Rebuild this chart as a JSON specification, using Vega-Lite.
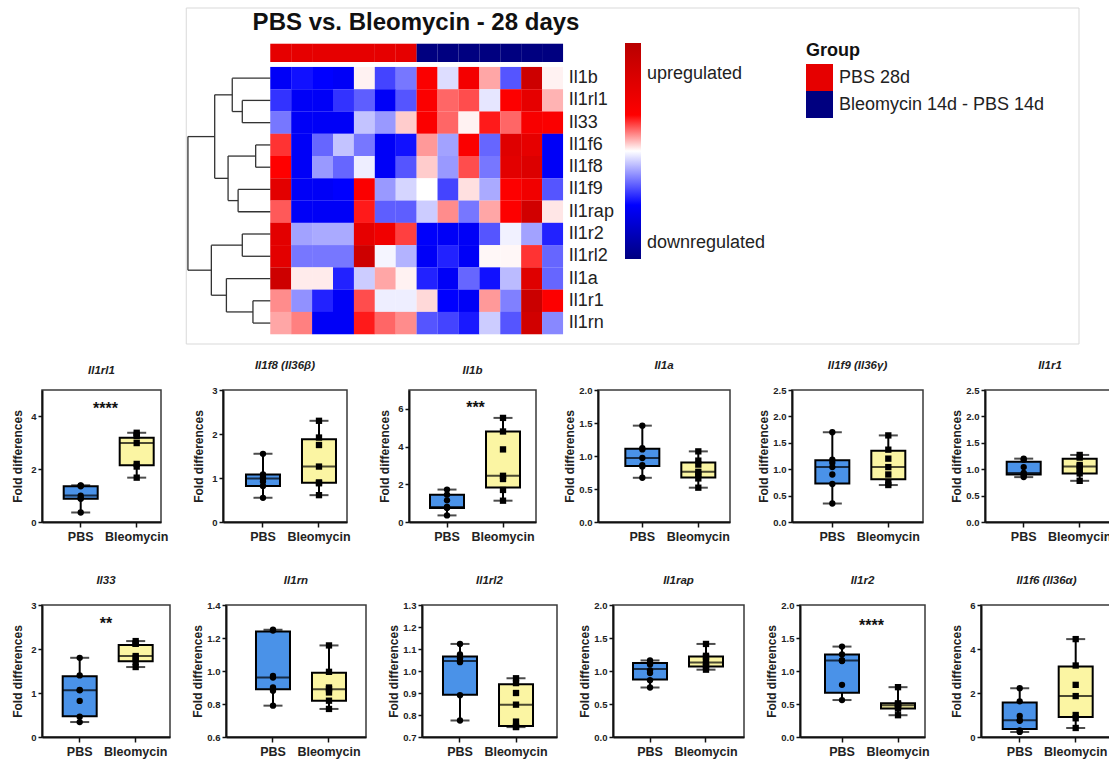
{
"$schema":"https://vega.github.io/schema/vega-lite/v6.json",
"padding":{"left":10,"top":7,"right":0,"bottom":0},
"background":"white",
"config":{
 "font":"Liberation Sans",
 "view":{"stroke":"#3a3a3a","strokeWidth":1.5},
 "axis":{"grid":false,"domainColor":"#111","domainWidth":2,"tickColor":"#111","tickWidth":1.5,"labelColor":"#222","titleColor":"#222"},
 "axisX":{"labelFontSize":12.5,"labelFontWeight":"bold","tickSize":5,"labelAngle":0,"labelPadding":3},
 "axisY":{"labelFontSize":9.5,"labelFontWeight":"bold","tickSize":4,"labelPadding":2,"titleFontSize":12,"titleFontWeight":"bold","labelOverlap":false,"labelFlush":false},
 "title":{"fontSize":11.5,"fontStyle":"italic","fontWeight":"bold","offset":14,"color":"#222"}
},
"datasets":{
 "heat":[
{"gene":"Il1b","r":1,"s":1,"v":-1.6},{"gene":"Il1b","r":1,"s":2,"v":-1.4},{"gene":"Il1b","r":1,"s":3,"v":-1.5},{"gene":"Il1b","r":1,"s":4,"v":-1.6},{"gene":"Il1b","r":1,"s":5,"v":0.05},{"gene":"Il1b","r":1,"s":6,"v":-1.1},{"gene":"Il1b","r":1,"s":7,"v":-0.8},{"gene":"Il1b","r":1,"s":8,"v":1.1},{"gene":"Il1b","r":1,"s":9,"v":-0.2},{"gene":"Il1b","r":1,"s":10,"v":1.3},{"gene":"Il1b","r":1,"s":11,"v":0.35},{"gene":"Il1b","r":1,"s":12,"v":-1.0},{"gene":"Il1b","r":1,"s":13,"v":2.4},{"gene":"Il1b","r":1,"s":14,"v":0.05},
{"gene":"Il1rl1","r":2,"s":1,"v":-1.2},{"gene":"Il1rl1","r":2,"s":2,"v":-1.6},{"gene":"Il1rl1","r":2,"s":3,"v":-1.6},{"gene":"Il1rl1","r":2,"s":4,"v":-1.2},{"gene":"Il1rl1","r":2,"s":5,"v":-0.95},{"gene":"Il1rl1","r":2,"s":6,"v":-1.6},{"gene":"Il1rl1","r":2,"s":7,"v":-1.0},{"gene":"Il1rl1","r":2,"s":8,"v":1.1},{"gene":"Il1rl1","r":2,"s":9,"v":0.6},{"gene":"Il1rl1","r":2,"s":10,"v":0.7},{"gene":"Il1rl1","r":2,"s":11,"v":-0.15},{"gene":"Il1rl1","r":2,"s":12,"v":1.05},{"gene":"Il1rl1","r":2,"s":13,"v":1.7},{"gene":"Il1rl1","r":2,"s":14,"v":0.3},
{"gene":"Il33","r":3,"s":1,"v":-0.8},{"gene":"Il33","r":3,"s":2,"v":-1.6},{"gene":"Il33","r":3,"s":3,"v":-1.6},{"gene":"Il33","r":3,"s":4,"v":-1.6},{"gene":"Il33","r":3,"s":5,"v":-0.35},{"gene":"Il33","r":3,"s":6,"v":-0.6},{"gene":"Il33","r":3,"s":7,"v":0.2},{"gene":"Il33","r":3,"s":8,"v":1.1},{"gene":"Il33","r":3,"s":9,"v":0.6},{"gene":"Il33","r":3,"s":10,"v":0.05},{"gene":"Il33","r":3,"s":11,"v":0.9},{"gene":"Il33","r":3,"s":12,"v":0.6},{"gene":"Il33","r":3,"s":13,"v":1.2},{"gene":"Il33","r":3,"s":14,"v":1.1},
{"gene":"Il1f6","r":4,"s":1,"v":0.8},{"gene":"Il1f6","r":4,"s":2,"v":-1.6},{"gene":"Il1f6","r":4,"s":3,"v":-0.9},{"gene":"Il1f6","r":4,"s":4,"v":-0.35},{"gene":"Il1f6","r":4,"s":5,"v":-0.8},{"gene":"Il1f6","r":4,"s":6,"v":-1.6},{"gene":"Il1f6","r":4,"s":7,"v":-1.4},{"gene":"Il1f6","r":4,"s":8,"v":0.4},{"gene":"Il1f6","r":4,"s":9,"v":-0.55},{"gene":"Il1f6","r":4,"s":10,"v":1.1},{"gene":"Il1f6","r":4,"s":11,"v":-0.9},{"gene":"Il1f6","r":4,"s":12,"v":1.9},{"gene":"Il1f6","r":4,"s":13,"v":1.7},{"gene":"Il1f6","r":4,"s":14,"v":-1.6},
{"gene":"Il1f8","r":5,"s":1,"v":1.0},{"gene":"Il1f8","r":5,"s":2,"v":-1.6},{"gene":"Il1f8","r":5,"s":3,"v":-0.6},{"gene":"Il1f8","r":5,"s":4,"v":-0.9},{"gene":"Il1f8","r":5,"s":5,"v":-0.1},{"gene":"Il1f8","r":5,"s":6,"v":-1.6},{"gene":"Il1f8","r":5,"s":7,"v":-1.0},{"gene":"Il1f8","r":5,"s":8,"v":0.2},{"gene":"Il1f8","r":5,"s":9,"v":-0.6},{"gene":"Il1f8","r":5,"s":10,"v":0.7},{"gene":"Il1f8","r":5,"s":11,"v":-0.8},{"gene":"Il1f8","r":5,"s":12,"v":1.8},{"gene":"Il1f8","r":5,"s":13,"v":2.0},{"gene":"Il1f8","r":5,"s":14,"v":-1.6},
{"gene":"Il1f9","r":6,"s":1,"v":1.8},{"gene":"Il1f9","r":6,"s":2,"v":-1.6},{"gene":"Il1f9","r":6,"s":3,"v":-1.6},{"gene":"Il1f9","r":6,"s":4,"v":-1.5},{"gene":"Il1f9","r":6,"s":5,"v":1.1},{"gene":"Il1f9","r":6,"s":6,"v":-0.6},{"gene":"Il1f9","r":6,"s":7,"v":-0.25},{"gene":"Il1f9","r":6,"s":8,"v":0.0},{"gene":"Il1f9","r":6,"s":9,"v":-1.1},{"gene":"Il1f9","r":6,"s":10,"v":0.12},{"gene":"Il1f9","r":6,"s":11,"v":-0.5},{"gene":"Il1f9","r":6,"s":12,"v":1.05},{"gene":"Il1f9","r":6,"s":13,"v":1.4},{"gene":"Il1f9","r":6,"s":14,"v":-1.0},
{"gene":"Il1rap","r":7,"s":1,"v":0.65},{"gene":"Il1rap","r":7,"s":2,"v":-1.6},{"gene":"Il1rap","r":7,"s":3,"v":-1.6},{"gene":"Il1rap","r":7,"s":4,"v":-1.6},{"gene":"Il1rap","r":7,"s":5,"v":0.9},{"gene":"Il1rap","r":7,"s":6,"v":-0.95},{"gene":"Il1rap","r":7,"s":7,"v":-0.95},{"gene":"Il1rap","r":7,"s":8,"v":-0.3},{"gene":"Il1rap","r":7,"s":9,"v":0.45},{"gene":"Il1rap","r":7,"s":10,"v":-0.8},{"gene":"Il1rap","r":7,"s":11,"v":0.35},{"gene":"Il1rap","r":7,"s":12,"v":1.05},{"gene":"Il1rap","r":7,"s":13,"v":2.3},{"gene":"Il1rap","r":7,"s":14,"v":0.1},
{"gene":"Il1r2","r":8,"s":1,"v":1.8},{"gene":"Il1r2","r":8,"s":2,"v":-0.55},{"gene":"Il1r2","r":8,"s":3,"v":-0.5},{"gene":"Il1r2","r":8,"s":4,"v":-0.5},{"gene":"Il1r2","r":8,"s":5,"v":1.7},{"gene":"Il1r2","r":8,"s":6,"v":1.4},{"gene":"Il1r2","r":8,"s":7,"v":0.75},{"gene":"Il1r2","r":8,"s":8,"v":-1.55},{"gene":"Il1r2","r":8,"s":9,"v":-1.6},{"gene":"Il1r2","r":8,"s":10,"v":-1.6},{"gene":"Il1r2","r":8,"s":11,"v":-1.0},{"gene":"Il1r2","r":8,"s":12,"v":-0.08},{"gene":"Il1r2","r":8,"s":13,"v":-0.55},{"gene":"Il1r2","r":8,"s":14,"v":-1.3},
{"gene":"Il1rl2","r":9,"s":1,"v":1.8},{"gene":"Il1rl2","r":9,"s":2,"v":-0.8},{"gene":"Il1rl2","r":9,"s":3,"v":-0.8},{"gene":"Il1rl2","r":9,"s":4,"v":-0.8},{"gene":"Il1rl2","r":9,"s":5,"v":2.4},{"gene":"Il1rl2","r":9,"s":6,"v":-0.06},{"gene":"Il1rl2","r":9,"s":7,"v":-0.45},{"gene":"Il1rl2","r":9,"s":8,"v":-1.6},{"gene":"Il1rl2","r":9,"s":9,"v":-1.3},{"gene":"Il1rl2","r":9,"s":10,"v":-1.6},{"gene":"Il1rl2","r":9,"s":11,"v":0.03},{"gene":"Il1rl2","r":9,"s":12,"v":0.03},{"gene":"Il1rl2","r":9,"s":13,"v":0.8},{"gene":"Il1rl2","r":9,"s":14,"v":-0.9},
{"gene":"Il1a","r":10,"s":1,"v":2.4},{"gene":"Il1a","r":10,"s":2,"v":0.08},{"gene":"Il1a","r":10,"s":3,"v":0.08},{"gene":"Il1a","r":10,"s":4,"v":-1.3},{"gene":"Il1a","r":10,"s":5,"v":-0.3},{"gene":"Il1a","r":10,"s":6,"v":0.35},{"gene":"Il1a","r":10,"s":7,"v":0.05},{"gene":"Il1a","r":10,"s":8,"v":-1.3},{"gene":"Il1a","r":10,"s":9,"v":-1.6},{"gene":"Il1a","r":10,"s":10,"v":-0.9},{"gene":"Il1a","r":10,"s":11,"v":-1.4},{"gene":"Il1a","r":10,"s":12,"v":-0.4},{"gene":"Il1a","r":10,"s":13,"v":1.9},{"gene":"Il1a","r":10,"s":14,"v":-0.9},
{"gene":"Il1r1","r":11,"s":1,"v":0.45},{"gene":"Il1r1","r":11,"s":2,"v":-0.65},{"gene":"Il1r1","r":11,"s":3,"v":-1.3},{"gene":"Il1r1","r":11,"s":4,"v":-1.6},{"gene":"Il1r1","r":11,"s":5,"v":0.7},{"gene":"Il1r1","r":11,"s":6,"v":-0.1},{"gene":"Il1r1","r":11,"s":7,"v":-0.1},{"gene":"Il1r1","r":11,"s":8,"v":0.15},{"gene":"Il1r1","r":11,"s":9,"v":-1.5},{"gene":"Il1r1","r":11,"s":10,"v":-1.6},{"gene":"Il1r1","r":11,"s":11,"v":0.4},{"gene":"Il1r1","r":11,"s":12,"v":-0.75},{"gene":"Il1r1","r":11,"s":13,"v":2.5},{"gene":"Il1r1","r":11,"s":14,"v":1.05},
{"gene":"Il1rn","r":12,"s":1,"v":0.35},{"gene":"Il1rn","r":12,"s":2,"v":0.5},{"gene":"Il1rn","r":12,"s":3,"v":-1.6},{"gene":"Il1rn","r":12,"s":4,"v":-1.6},{"gene":"Il1rn","r":12,"s":5,"v":0.9},{"gene":"Il1rn","r":12,"s":6,"v":0.6},{"gene":"Il1rn","r":12,"s":7,"v":0.45},{"gene":"Il1rn","r":12,"s":8,"v":-1.0},{"gene":"Il1rn","r":12,"s":9,"v":-1.1},{"gene":"Il1rn","r":12,"s":10,"v":-1.35},{"gene":"Il1rn","r":12,"s":11,"v":-0.3},{"gene":"Il1rn","r":12,"s":12,"v":-1.0},{"gene":"Il1rn","r":12,"s":13,"v":2.3},{"gene":"Il1rn","r":12,"s":14,"v":-0.7}
 ],
 "samples":[
{"s":1,"group":"PBS 28d"},{"s":2,"group":"PBS 28d"},{"s":3,"group":"PBS 28d"},{"s":4,"group":"PBS 28d"},{"s":5,"group":"PBS 28d"},{"s":6,"group":"PBS 28d"},{"s":7,"group":"PBS 28d"},
{"s":8,"group":"Bleomycin 14d - PBS 14d"},{"s":9,"group":"Bleomycin 14d - PBS 14d"},{"s":10,"group":"Bleomycin 14d - PBS 14d"},{"s":11,"group":"Bleomycin 14d - PBS 14d"},{"s":12,"group":"Bleomycin 14d - PBS 14d"},{"s":13,"group":"Bleomycin 14d - PBS 14d"},{"s":14,"group":"Bleomycin 14d - PBS 14d"}
 ],
 "dendro":[
{"x1":-0.84,"x2":-0.84,"y1":2,"y2":3},{"x1":-0.84,"x2":0.5,"y1":2,"y2":2},{"x1":-0.84,"x2":0.5,"y1":3,"y2":3},
{"x1":-1.32,"x2":-1.32,"y1":1,"y2":2.5},{"x1":-1.32,"x2":0.5,"y1":1,"y2":1},{"x1":-1.32,"x2":-0.84,"y1":2.5,"y2":2.5},
{"x1":-0.2,"x2":-0.2,"y1":4,"y2":5},{"x1":-0.2,"x2":0.5,"y1":4,"y2":4},{"x1":-0.2,"x2":0.5,"y1":5,"y2":5},
{"x1":-1.04,"x2":-1.04,"y1":6,"y2":7},{"x1":-1.04,"x2":0.5,"y1":6,"y2":6},{"x1":-1.04,"x2":0.5,"y1":7,"y2":7},
{"x1":-1.52,"x2":-1.52,"y1":4.5,"y2":6.5},{"x1":-1.52,"x2":-0.2,"y1":4.5,"y2":4.5},{"x1":-1.52,"x2":-1.04,"y1":6.5,"y2":6.5},
{"x1":-2.16,"x2":-2.16,"y1":1.75,"y2":5.5},{"x1":-2.16,"x2":-1.32,"y1":1.75,"y2":1.75},{"x1":-2.16,"x2":-1.52,"y1":5.5,"y2":5.5},
{"x1":-0.84,"x2":-0.84,"y1":8,"y2":9},{"x1":-0.84,"x2":0.5,"y1":8,"y2":8},{"x1":-0.84,"x2":0.5,"y1":9,"y2":9},
{"x1":-0.33,"x2":-0.33,"y1":11,"y2":12},{"x1":-0.33,"x2":0.5,"y1":11,"y2":11},{"x1":-0.33,"x2":0.5,"y1":12,"y2":12},
{"x1":-1.6,"x2":-1.6,"y1":10,"y2":11.5},{"x1":-1.6,"x2":0.5,"y1":10,"y2":10},{"x1":-1.6,"x2":-0.33,"y1":11.5,"y2":11.5},
{"x1":-2.32,"x2":-2.32,"y1":8.5,"y2":10.75},{"x1":-2.32,"x2":-0.84,"y1":8.5,"y2":8.5},{"x1":-2.32,"x2":-1.6,"y1":10.75,"y2":10.75},
{"x1":-3.44,"x2":-3.44,"y1":3.625,"y2":9.625},{"x1":-3.44,"x2":-2.16,"y1":3.625,"y2":3.625},{"x1":-3.44,"x2":-2.32,"y1":9.625,"y2":9.625}
 ],
 "boxes":[
{"gene":"Il1rl1","group":"PBS","lo":0.36,"q1":0.88,"med":1.0,"q3":1.35,"hi":1.39},
{"gene":"Il1rl1","group":"Bleomycin","lo":1.68,"q1":2.15,"med":2.99,"q3":3.19,"hi":3.38},
{"gene":"Il1f8","group":"PBS","lo":0.55,"q1":0.82,"med":0.99,"q3":1.08,"hi":1.55},
{"gene":"Il1f8","group":"Bleomycin","lo":0.61,"q1":0.89,"med":1.26,"q3":1.88,"hi":2.3},
{"gene":"Il1b","group":"PBS","lo":0.35,"q1":0.74,"med":0.8,"q3":1.45,"hi":1.72},
{"gene":"Il1b","group":"Bleomycin","lo":1.13,"q1":1.83,"med":2.45,"q3":4.8,"hi":5.52},
{"gene":"Il1a","group":"PBS","lo":0.67,"q1":0.85,"med":0.97,"q3":1.11,"hi":1.46},
{"gene":"Il1a","group":"Bleomycin","lo":0.52,"q1":0.675,"med":0.76,"q3":0.9,"hi":1.07},
{"gene":"Il1f9","group":"PBS","lo":0.35,"q1":0.73,"med":1.04,"q3":1.17,"hi":1.7},
{"gene":"Il1f9","group":"Bleomycin","lo":0.7,"q1":0.81,"med":1.04,"q3":1.35,"hi":1.64},
{"gene":"Il1r1","group":"PBS","lo":0.85,"q1":0.9,"med":0.93,"q3":1.14,"hi":1.2},
{"gene":"Il1r1","group":"Bleomycin","lo":0.78,"q1":0.92,"med":1.05,"q3":1.2,"hi":1.27},
{"gene":"Il33","group":"PBS","lo":0.34,"q1":0.47,"med":1.06,"q3":1.38,"hi":1.8},
{"gene":"Il33","group":"Bleomycin","lo":1.59,"q1":1.72,"med":1.84,"q3":2.09,"hi":2.18},
{"gene":"Il1rn","group":"PBS","lo":0.79,"q1":0.89,"med":0.96,"q3":1.24,"hi":1.25},
{"gene":"Il1rn","group":"Bleomycin","lo":0.77,"q1":0.82,"med":0.89,"q3":0.99,"hi":1.155},
{"gene":"Il1rl2","group":"PBS","lo":0.775,"q1":0.892,"med":1.045,"q3":1.066,"hi":1.123},
{"gene":"Il1rl2","group":"Bleomycin","lo":0.745,"q1":0.75,"med":0.847,"q3":0.94,"hi":0.967},
{"gene":"Il1rap","group":"PBS","lo":0.75,"q1":0.87,"med":1.03,"q3":1.12,"hi":1.16},
{"gene":"Il1rap","group":"Bleomycin","lo":1.02,"q1":1.07,"med":1.13,"q3":1.22,"hi":1.41},
{"gene":"Il1r2","group":"PBS","lo":0.56,"q1":0.67,"med":1.16,"q3":1.25,"hi":1.37},
{"gene":"Il1r2","group":"Bleomycin","lo":0.33,"q1":0.43,"med":0.48,"q3":0.51,"hi":0.755},
{"gene":"Il1f6","group":"PBS","lo":0.23,"q1":0.36,"med":0.76,"q3":1.57,"hi":2.22},
{"gene":"Il1f6","group":"Bleomycin","lo":0.41,"q1":0.91,"med":1.86,"q3":3.2,"hi":4.45}
 ],
 "points":[
{"gene":"Il1rl1","group":"PBS","value":1.39},{"gene":"Il1rl1","group":"PBS","value":1.38},{"gene":"Il1rl1","group":"PBS","value":1.35},{"gene":"Il1rl1","group":"PBS","value":1.0},{"gene":"Il1rl1","group":"PBS","value":0.9},{"gene":"Il1rl1","group":"PBS","value":0.88},{"gene":"Il1rl1","group":"PBS","value":0.36},
{"gene":"Il1rl1","group":"Bleomycin","value":3.38},{"gene":"Il1rl1","group":"Bleomycin","value":3.3},{"gene":"Il1rl1","group":"Bleomycin","value":3.25},{"gene":"Il1rl1","group":"Bleomycin","value":2.99},{"gene":"Il1rl1","group":"Bleomycin","value":2.2},{"gene":"Il1rl1","group":"Bleomycin","value":2.1},{"gene":"Il1rl1","group":"Bleomycin","value":1.68},
{"gene":"Il1f8","group":"PBS","value":1.55},{"gene":"Il1f8","group":"PBS","value":1.08},{"gene":"Il1f8","group":"PBS","value":1.02},{"gene":"Il1f8","group":"PBS","value":0.99},{"gene":"Il1f8","group":"PBS","value":0.92},{"gene":"Il1f8","group":"PBS","value":0.82},{"gene":"Il1f8","group":"PBS","value":0.55},
{"gene":"Il1f8","group":"Bleomycin","value":2.3},{"gene":"Il1f8","group":"Bleomycin","value":1.92},{"gene":"Il1f8","group":"Bleomycin","value":1.75},{"gene":"Il1f8","group":"Bleomycin","value":1.26},{"gene":"Il1f8","group":"Bleomycin","value":0.9},{"gene":"Il1f8","group":"Bleomycin","value":0.88},{"gene":"Il1f8","group":"Bleomycin","value":0.61},
{"gene":"Il1b","group":"PBS","value":1.72},{"gene":"Il1b","group":"PBS","value":1.45},{"gene":"Il1b","group":"PBS","value":1.15},{"gene":"Il1b","group":"PBS","value":0.8},{"gene":"Il1b","group":"PBS","value":0.78},{"gene":"Il1b","group":"PBS","value":0.74},{"gene":"Il1b","group":"PBS","value":0.35},
{"gene":"Il1b","group":"Bleomycin","value":5.52},{"gene":"Il1b","group":"Bleomycin","value":4.8},{"gene":"Il1b","group":"Bleomycin","value":3.85},{"gene":"Il1b","group":"Bleomycin","value":2.45},{"gene":"Il1b","group":"Bleomycin","value":2.28},{"gene":"Il1b","group":"Bleomycin","value":1.7},{"gene":"Il1b","group":"Bleomycin","value":1.13},
{"gene":"Il1a","group":"PBS","value":1.46},{"gene":"Il1a","group":"PBS","value":1.12},{"gene":"Il1a","group":"PBS","value":1.1},{"gene":"Il1a","group":"PBS","value":0.97},{"gene":"Il1a","group":"PBS","value":0.86},{"gene":"Il1a","group":"PBS","value":0.84},{"gene":"Il1a","group":"PBS","value":0.67},
{"gene":"Il1a","group":"Bleomycin","value":1.07},{"gene":"Il1a","group":"Bleomycin","value":0.93},{"gene":"Il1a","group":"Bleomycin","value":0.87},{"gene":"Il1a","group":"Bleomycin","value":0.76},{"gene":"Il1a","group":"Bleomycin","value":0.72},{"gene":"Il1a","group":"Bleomycin","value":0.66},{"gene":"Il1a","group":"Bleomycin","value":0.52},
{"gene":"Il1f9","group":"PBS","value":1.7},{"gene":"Il1f9","group":"PBS","value":1.18},{"gene":"Il1f9","group":"PBS","value":1.12},{"gene":"Il1f9","group":"PBS","value":1.04},{"gene":"Il1f9","group":"PBS","value":0.9},{"gene":"Il1f9","group":"PBS","value":0.72},{"gene":"Il1f9","group":"PBS","value":0.35},
{"gene":"Il1f9","group":"Bleomycin","value":1.64},{"gene":"Il1f9","group":"Bleomycin","value":1.37},{"gene":"Il1f9","group":"Bleomycin","value":1.2},{"gene":"Il1f9","group":"Bleomycin","value":1.04},{"gene":"Il1f9","group":"Bleomycin","value":0.9},{"gene":"Il1f9","group":"Bleomycin","value":0.74},{"gene":"Il1f9","group":"Bleomycin","value":0.7},
{"gene":"Il1r1","group":"PBS","value":1.2},{"gene":"Il1r1","group":"PBS","value":1.18},{"gene":"Il1r1","group":"PBS","value":1.04},{"gene":"Il1r1","group":"PBS","value":0.93},{"gene":"Il1r1","group":"PBS","value":0.91},{"gene":"Il1r1","group":"PBS","value":0.88},{"gene":"Il1r1","group":"PBS","value":0.85},
{"gene":"Il1r1","group":"Bleomycin","value":1.27},{"gene":"Il1r1","group":"Bleomycin","value":1.22},{"gene":"Il1r1","group":"Bleomycin","value":1.08},{"gene":"Il1r1","group":"Bleomycin","value":1.05},{"gene":"Il1r1","group":"Bleomycin","value":0.97},{"gene":"Il1r1","group":"Bleomycin","value":0.92},{"gene":"Il1r1","group":"Bleomycin","value":0.78},
{"gene":"Il33","group":"PBS","value":1.8},{"gene":"Il33","group":"PBS","value":1.4},{"gene":"Il33","group":"PBS","value":1.07},{"gene":"Il33","group":"PBS","value":1.06},{"gene":"Il33","group":"PBS","value":0.82},{"gene":"Il33","group":"PBS","value":0.46},{"gene":"Il33","group":"PBS","value":0.34},
{"gene":"Il33","group":"Bleomycin","value":2.18},{"gene":"Il33","group":"Bleomycin","value":2.12},{"gene":"Il33","group":"Bleomycin","value":2.12},{"gene":"Il33","group":"Bleomycin","value":1.84},{"gene":"Il33","group":"Bleomycin","value":1.8},{"gene":"Il33","group":"Bleomycin","value":1.7},{"gene":"Il33","group":"Bleomycin","value":1.59},
{"gene":"Il1rn","group":"PBS","value":1.25},{"gene":"Il1rn","group":"PBS","value":1.245},{"gene":"Il1rn","group":"PBS","value":0.97},{"gene":"Il1rn","group":"PBS","value":0.96},{"gene":"Il1rn","group":"PBS","value":0.9},{"gene":"Il1rn","group":"PBS","value":0.88},{"gene":"Il1rn","group":"PBS","value":0.79},
{"gene":"Il1rn","group":"Bleomycin","value":1.155},{"gene":"Il1rn","group":"Bleomycin","value":0.995},{"gene":"Il1rn","group":"Bleomycin","value":0.9},{"gene":"Il1rn","group":"Bleomycin","value":0.89},{"gene":"Il1rn","group":"Bleomycin","value":0.87},{"gene":"Il1rn","group":"Bleomycin","value":0.82},{"gene":"Il1rn","group":"Bleomycin","value":0.77},
{"gene":"Il1rl2","group":"PBS","value":1.123},{"gene":"Il1rl2","group":"PBS","value":1.075},{"gene":"Il1rl2","group":"PBS","value":1.058},{"gene":"Il1rl2","group":"PBS","value":1.045},{"gene":"Il1rl2","group":"PBS","value":1.04},{"gene":"Il1rl2","group":"PBS","value":0.89},{"gene":"Il1rl2","group":"PBS","value":0.775},
{"gene":"Il1rl2","group":"Bleomycin","value":0.967},{"gene":"Il1rl2","group":"Bleomycin","value":0.945},{"gene":"Il1rl2","group":"Bleomycin","value":0.9},{"gene":"Il1rl2","group":"Bleomycin","value":0.847},{"gene":"Il1rl2","group":"Bleomycin","value":0.77},{"gene":"Il1rl2","group":"Bleomycin","value":0.747},{"gene":"Il1rl2","group":"Bleomycin","value":0.745},
{"gene":"Il1rap","group":"PBS","value":1.16},{"gene":"Il1rap","group":"PBS","value":1.13},{"gene":"Il1rap","group":"PBS","value":1.1},{"gene":"Il1rap","group":"PBS","value":1.01},{"gene":"Il1rap","group":"PBS","value":0.97},{"gene":"Il1rap","group":"PBS","value":0.86},{"gene":"Il1rap","group":"PBS","value":0.75},
{"gene":"Il1rap","group":"Bleomycin","value":1.41},{"gene":"Il1rap","group":"Bleomycin","value":1.23},{"gene":"Il1rap","group":"Bleomycin","value":1.21},{"gene":"Il1rap","group":"Bleomycin","value":1.14},{"gene":"Il1rap","group":"Bleomycin","value":1.1},{"gene":"Il1rap","group":"Bleomycin","value":1.06},{"gene":"Il1rap","group":"Bleomycin","value":1.02},
{"gene":"Il1r2","group":"PBS","value":1.37},{"gene":"Il1r2","group":"PBS","value":1.25},{"gene":"Il1r2","group":"PBS","value":1.16},{"gene":"Il1r2","group":"PBS","value":1.16},{"gene":"Il1r2","group":"PBS","value":1.15},{"gene":"Il1r2","group":"PBS","value":0.79},{"gene":"Il1r2","group":"PBS","value":0.56},
{"gene":"Il1r2","group":"Bleomycin","value":0.755},{"gene":"Il1r2","group":"Bleomycin","value":0.51},{"gene":"Il1r2","group":"Bleomycin","value":0.5},{"gene":"Il1r2","group":"Bleomycin","value":0.48},{"gene":"Il1r2","group":"Bleomycin","value":0.46},{"gene":"Il1r2","group":"Bleomycin","value":0.43},{"gene":"Il1r2","group":"Bleomycin","value":0.33},
{"gene":"Il1f6","group":"PBS","value":2.22},{"gene":"Il1f6","group":"PBS","value":1.62},{"gene":"Il1f6","group":"PBS","value":0.96},{"gene":"Il1f6","group":"PBS","value":0.76},{"gene":"Il1f6","group":"PBS","value":0.74},{"gene":"Il1f6","group":"PBS","value":0.3},{"gene":"Il1f6","group":"PBS","value":0.23},
{"gene":"Il1f6","group":"Bleomycin","value":4.45},{"gene":"Il1f6","group":"Bleomycin","value":3.25},{"gene":"Il1f6","group":"Bleomycin","value":2.37},{"gene":"Il1f6","group":"Bleomycin","value":1.86},{"gene":"Il1f6","group":"Bleomycin","value":1.0},{"gene":"Il1f6","group":"Bleomycin","value":0.85},{"gene":"Il1f6","group":"Bleomycin","value":0.41}
 ],
 "stars":[
{"gene":"Il1rl1","label":"****","y":4.43},{"gene":"Il1b","label":"***","y":6.24},{"gene":"Il33","label":"**","y":2.65},{"gene":"Il1r2","label":"****","y":1.74}
 ]
},
"resolve":{"scale":{"color":"independent","fill":"independent","shape":"independent"}},
"spacing":13,
"vconcat":[
 {
  "width":1037,"height":336,
  "view":{"stroke":null},
  "layer":[
   {"data":{"values":[{"f":1}]},"mark":{"type":"rect","fill":"white","fillOpacity":0,"stroke":"#d9d9d9","strokeWidth":1},
    "encoding":{"x":{"datum":-3.52,"type":"quantitative","scale":{"domain":[-10.42,39.18],"nice":false,"zero":false},"axis":null},"x2":{"datum":39.18},
     "y":{"datum":-2.15,"type":"quantitative","scale":{"domain":[-2.15,12.94],"reverse":true,"nice":false,"zero":false},"axis":null},"y2":{"datum":12.94}}},
   {"data":{"name":"heat"},"mark":{"type":"rect","width":21,"height":22.4},
    "encoding":{"x":{"field":"s","type":"quantitative"},"y":{"field":"r","type":"quantitative"},
     "color":{"field":"v","type":"quantitative","scale":{"domain":[-3,-1.5,0,1,3],"range":["#000080","#0000ff","#ffffff","#ff0000","#b80000"],"interpolate":"rgb"},
      "legend":{"orient":"none","legendX":583,"legendY":35,"direction":"vertical","gradientLength":216,"gradientThickness":16,"title":null,"values":[2.14,-2.56],"labelExpr":"datum.value > 0 ? 'upregulated' : 'downregulated'","labelFontSize":18,"labelColor":"#222","labelOffset":6,"labelOverlap":false,"labelBaseline":"middle","gradientStrokeWidth":0,"labelLimit":0}}}},
   {"data":{"name":"samples"},"mark":{"type":"rect","width":21,"height":18.3},
    "encoding":{"x":{"field":"s","type":"quantitative"},"y":{"datum":-0.135,"type":"quantitative"},
     "fill":{"field":"group","type":"nominal","scale":{"domain":["PBS 28d","Bleomycin 14d - PBS 14d"],"range":["#e60000","#000080"]},
      "legend":{"orient":"none","legendX":764,"legendY":34,"title":"Group","titleFontSize":18,"titleFontWeight":"bold","titleColor":"#111","titlePadding":4,"labelFontSize":18,"labelColor":"#222","labelOffset":6,"labelLimit":0,"symbolType":"square","symbolSize":729,"symbolStrokeWidth":0,"symbolOpacity":1,"rowPadding":0,"padding":0}}}},
   {"data":{"name":"dendro"},"mark":{"type":"rule","color":"#333","strokeWidth":1.3},
    "encoding":{"x":{"field":"x1","type":"quantitative"},"x2":{"field":"x2"},"y":{"field":"y1","type":"quantitative"},"y2":{"field":"y2"}}},
   {"data":{"name":"heat"},"transform":[{"filter":"datum.s === 1"}],"mark":{"type":"text","align":"left","baseline":"middle","fontSize":18,"color":"#222"},
    "encoding":{"x":{"datum":14.78,"type":"quantitative"},"y":{"field":"r","type":"quantitative"},"text":{"field":"gene"}}},
   {"data":{"values":[{"t":"PBS vs. Bleomycin - 28 days"}]},"mark":{"type":"text","align":"center","baseline":"alphabetic","fontSize":24,"fontWeight":"bold","color":"#111"},
    "encoding":{"x":{"datum":7.47,"type":"quantitative"},"y":{"datum":-1.16,"type":"quantitative"},"text":{"field":"t"}}}
  ]
 },
 {
  "spacing":29,
  "vconcat":[
   {"hconcat":[
    {"width":119,"height":132,"title":"Il1rl1","data":{"name":"boxes"},"transform":[{"filter":"datum.gene === 'Il1rl1'"}],
     "layer":[
      {"mark":{"type":"rule","color":"#000","strokeWidth":2},"encoding":{"x":{"field":"group","type":"nominal","scale":{"domain":["PBS","Bleomycin"],"paddingInner":0.4,"paddingOuter":0.2625,"align":0.745},"axis":{"title":null}},"y":{"field":"lo","type":"quantitative","scale":{"domain":[0,5],"nice":false,"zero":false},"axis":{"values":[0,2,4],"tickCount":20,"format":"d","title":"Fold differences","titlePadding":6,"labelOverlap":false}},"y2":{"field":"hi"}}},
      {"mark":{"type":"bar","width":34,"stroke":"#000","strokeWidth":2},"encoding":{"x":{"field":"group","type":"nominal"},"y":{"field":"q1","type":"quantitative"},"y2":{"field":"q3"},"fill":{"field":"group","type":"nominal","scale":{"domain":["PBS","Bleomycin"],"range":["#4a92e8","#fbf5a3"]},"legend":null}}},
      {"mark":{"type":"tick","color":"#000","thickness":2,"size":34},"encoding":{"x":{"field":"group","type":"nominal"},"y":{"field":"med","type":"quantitative"}}},
      {"mark":{"type":"tick","color":"#000","thickness":2,"size":19},"encoding":{"x":{"field":"group","type":"nominal"},"y":{"field":"lo","type":"quantitative"}}},
      {"mark":{"type":"tick","color":"#000","thickness":2,"size":19},"encoding":{"x":{"field":"group","type":"nominal"},"y":{"field":"hi","type":"quantitative"}}},
      {"data":{"name":"points"},"transform":[{"filter":"datum.gene === 'Il1rl1'"}],"mark":{"type":"point","filled":true,"color":"#000","size":40,"opacity":1},"encoding":{"x":{"field":"group","type":"nominal"},"y":{"field":"value","type":"quantitative"},"shape":{"field":"group","type":"nominal","scale":{"domain":["PBS","Bleomycin"],"range":["circle","square"]},"legend":null}}},
      {"data":{"name":"stars"},"transform":[{"filter":"datum.gene === 'Il1rl1'"}],"mark":{"type":"text","fontSize":16,"fontWeight":"bold","baseline":"middle","dx":4,"dy":4,"color":"#111"},"encoding":{"y":{"field":"y","type":"quantitative"},"text":{"field":"label"}}}
     ]},
    {"width":124,"height":132,"title":"Il1f8 (Il36β)","data":{"name":"boxes"},"transform":[{"filter":"datum.gene === 'Il1f8'"}],
     "layer":[
      {"mark":{"type":"rule","color":"#000","strokeWidth":2},"encoding":{"x":{"field":"group","type":"nominal","scale":{"domain":["PBS","Bleomycin"],"paddingInner":0.4,"paddingOuter":0.307,"align":0.674},"axis":{"title":null}},"y":{"field":"lo","type":"quantitative","scale":{"domain":[0,3],"nice":false,"zero":false},"axis":{"values":[0,1,2,3],"tickCount":20,"format":"d","title":"Fold differences","titlePadding":6,"labelOverlap":false}},"y2":{"field":"hi"}}},
      {"mark":{"type":"bar","width":34,"stroke":"#000","strokeWidth":2},"encoding":{"x":{"field":"group","type":"nominal"},"y":{"field":"q1","type":"quantitative"},"y2":{"field":"q3"},"fill":{"field":"group","type":"nominal","scale":{"domain":["PBS","Bleomycin"],"range":["#4a92e8","#fbf5a3"]},"legend":null}}},
      {"mark":{"type":"tick","color":"#000","thickness":2,"size":34},"encoding":{"x":{"field":"group","type":"nominal"},"y":{"field":"med","type":"quantitative"}}},
      {"mark":{"type":"tick","color":"#000","thickness":2,"size":19},"encoding":{"x":{"field":"group","type":"nominal"},"y":{"field":"lo","type":"quantitative"}}},
      {"mark":{"type":"tick","color":"#000","thickness":2,"size":19},"encoding":{"x":{"field":"group","type":"nominal"},"y":{"field":"hi","type":"quantitative"}}},
      {"data":{"name":"points"},"transform":[{"filter":"datum.gene === 'Il1f8'"}],"mark":{"type":"point","filled":true,"color":"#000","size":40,"opacity":1},"encoding":{"x":{"field":"group","type":"nominal"},"y":{"field":"value","type":"quantitative"},"shape":{"field":"group","type":"nominal","scale":{"domain":["PBS","Bleomycin"],"range":["circle","square"]},"legend":null}}}
     ]},
    {"width":127,"height":132,"title":"Il1b","data":{"name":"boxes"},"transform":[{"filter":"datum.gene === 'Il1b'"}],
     "layer":[
      {"mark":{"type":"rule","color":"#000","strokeWidth":2},"encoding":{"x":{"field":"group","type":"nominal","scale":{"domain":["PBS","Bleomycin"],"paddingInner":0.4,"paddingOuter":0.334,"align":0.567},"axis":{"title":null}},"y":{"field":"lo","type":"quantitative","scale":{"domain":[0,7],"nice":false,"zero":false},"axis":{"values":[0,2,4,6],"tickCount":20,"format":"d","title":"Fold differences","titlePadding":6,"labelOverlap":false}},"y2":{"field":"hi"}}},
      {"mark":{"type":"bar","width":34,"stroke":"#000","strokeWidth":2},"encoding":{"x":{"field":"group","type":"nominal"},"y":{"field":"q1","type":"quantitative"},"y2":{"field":"q3"},"fill":{"field":"group","type":"nominal","scale":{"domain":["PBS","Bleomycin"],"range":["#4a92e8","#fbf5a3"]},"legend":null}}},
      {"mark":{"type":"tick","color":"#000","thickness":2,"size":34},"encoding":{"x":{"field":"group","type":"nominal"},"y":{"field":"med","type":"quantitative"}}},
      {"mark":{"type":"tick","color":"#000","thickness":2,"size":19},"encoding":{"x":{"field":"group","type":"nominal"},"y":{"field":"lo","type":"quantitative"}}},
      {"mark":{"type":"tick","color":"#000","thickness":2,"size":19},"encoding":{"x":{"field":"group","type":"nominal"},"y":{"field":"hi","type":"quantitative"}}},
      {"data":{"name":"points"},"transform":[{"filter":"datum.gene === 'Il1b'"}],"mark":{"type":"point","filled":true,"color":"#000","size":40,"opacity":1},"encoding":{"x":{"field":"group","type":"nominal"},"y":{"field":"value","type":"quantitative"},"shape":{"field":"group","type":"nominal","scale":{"domain":["PBS","Bleomycin"],"range":["circle","square"]},"legend":null}}},
      {"data":{"name":"stars"},"transform":[{"filter":"datum.gene === 'Il1b'"}],"mark":{"type":"text","fontSize":16,"fontWeight":"bold","baseline":"middle","dx":3,"dy":4,"color":"#111"},"encoding":{"y":{"field":"y","type":"quantitative"},"text":{"field":"label"}}}
     ]},
    {"width":132,"height":132,"title":"Il1a","data":{"name":"boxes"},"transform":[{"filter":"datum.gene === 'Il1a'"}],
     "layer":[
      {"mark":{"type":"rule","color":"#000","strokeWidth":2},"encoding":{"x":{"field":"group","type":"nominal","scale":{"domain":["PBS","Bleomycin"],"paddingInner":0.4,"paddingOuter":0.379,"align":0.649},"axis":{"title":null}},"y":{"field":"lo","type":"quantitative","scale":{"domain":[0,2],"nice":false,"zero":false},"axis":{"values":[0,0.5,1,1.5,2],"tickCount":20,"format":".1f","title":"Fold differences","titlePadding":2,"labelOverlap":false}},"y2":{"field":"hi"}}},
      {"mark":{"type":"bar","width":34,"stroke":"#000","strokeWidth":2},"encoding":{"x":{"field":"group","type":"nominal"},"y":{"field":"q1","type":"quantitative"},"y2":{"field":"q3"},"fill":{"field":"group","type":"nominal","scale":{"domain":["PBS","Bleomycin"],"range":["#4a92e8","#fbf5a3"]},"legend":null}}},
      {"mark":{"type":"tick","color":"#000","thickness":2,"size":34},"encoding":{"x":{"field":"group","type":"nominal"},"y":{"field":"med","type":"quantitative"}}},
      {"mark":{"type":"tick","color":"#000","thickness":2,"size":19},"encoding":{"x":{"field":"group","type":"nominal"},"y":{"field":"lo","type":"quantitative"}}},
      {"mark":{"type":"tick","color":"#000","thickness":2,"size":19},"encoding":{"x":{"field":"group","type":"nominal"},"y":{"field":"hi","type":"quantitative"}}},
      {"data":{"name":"points"},"transform":[{"filter":"datum.gene === 'Il1a'"}],"mark":{"type":"point","filled":true,"color":"#000","size":40,"opacity":1},"encoding":{"x":{"field":"group","type":"nominal"},"y":{"field":"value","type":"quantitative"},"shape":{"field":"group","type":"nominal","scale":{"domain":["PBS","Bleomycin"],"range":["circle","square"]},"legend":null}}}
     ]},
    {"width":131,"height":132,"title":"Il1f9 (Il36γ)","data":{"name":"boxes"},"transform":[{"filter":"datum.gene === 'Il1f9'"}],
     "layer":[
      {"mark":{"type":"rule","color":"#000","strokeWidth":2},"encoding":{"x":{"field":"group","type":"nominal","scale":{"domain":["PBS","Bleomycin"],"paddingInner":0.4,"paddingOuter":0.37,"align":0.568},"axis":{"title":null}},"y":{"field":"lo","type":"quantitative","scale":{"domain":[0,2.5],"nice":false,"zero":false},"axis":{"values":[0,0.5,1,1.5,2,2.5],"tickCount":20,"format":".1f","title":"Fold differences","titlePadding":2,"labelOverlap":false}},"y2":{"field":"hi"}}},
      {"mark":{"type":"bar","width":34,"stroke":"#000","strokeWidth":2},"encoding":{"x":{"field":"group","type":"nominal"},"y":{"field":"q1","type":"quantitative"},"y2":{"field":"q3"},"fill":{"field":"group","type":"nominal","scale":{"domain":["PBS","Bleomycin"],"range":["#4a92e8","#fbf5a3"]},"legend":null}}},
      {"mark":{"type":"tick","color":"#000","thickness":2,"size":34},"encoding":{"x":{"field":"group","type":"nominal"},"y":{"field":"med","type":"quantitative"}}},
      {"mark":{"type":"tick","color":"#000","thickness":2,"size":19},"encoding":{"x":{"field":"group","type":"nominal"},"y":{"field":"lo","type":"quantitative"}}},
      {"mark":{"type":"tick","color":"#000","thickness":2,"size":19},"encoding":{"x":{"field":"group","type":"nominal"},"y":{"field":"hi","type":"quantitative"}}},
      {"data":{"name":"points"},"transform":[{"filter":"datum.gene === 'Il1f9'"}],"mark":{"type":"point","filled":true,"color":"#000","size":40,"opacity":1},"encoding":{"x":{"field":"group","type":"nominal"},"y":{"field":"value","type":"quantitative"},"shape":{"field":"group","type":"nominal","scale":{"domain":["PBS","Bleomycin"],"range":["circle","square"]},"legend":null}}}
     ]},
    {"width":130,"height":132,"title":"Il1r1","data":{"name":"boxes"},"transform":[{"filter":"datum.gene === 'Il1r1'"}],
     "layer":[
      {"mark":{"type":"rule","color":"#000","strokeWidth":2},"encoding":{"x":{"field":"group","type":"nominal","scale":{"domain":["PBS","Bleomycin"],"paddingInner":0.4,"paddingOuter":0.361,"align":0.542},"axis":{"title":null}},"y":{"field":"lo","type":"quantitative","scale":{"domain":[0,2.5],"nice":false,"zero":false},"axis":{"values":[0,0.5,1,1.5,2,2.5],"tickCount":20,"format":".1f","title":"Fold differences","titlePadding":2,"labelOverlap":false}},"y2":{"field":"hi"}}},
      {"mark":{"type":"bar","width":34,"stroke":"#000","strokeWidth":2},"encoding":{"x":{"field":"group","type":"nominal"},"y":{"field":"q1","type":"quantitative"},"y2":{"field":"q3"},"fill":{"field":"group","type":"nominal","scale":{"domain":["PBS","Bleomycin"],"range":["#4a92e8","#fbf5a3"]},"legend":null}}},
      {"mark":{"type":"tick","color":"#000","thickness":2,"size":34},"encoding":{"x":{"field":"group","type":"nominal"},"y":{"field":"med","type":"quantitative"}}},
      {"mark":{"type":"tick","color":"#000","thickness":2,"size":19},"encoding":{"x":{"field":"group","type":"nominal"},"y":{"field":"lo","type":"quantitative"}}},
      {"mark":{"type":"tick","color":"#000","thickness":2,"size":19},"encoding":{"x":{"field":"group","type":"nominal"},"y":{"field":"hi","type":"quantitative"}}},
      {"data":{"name":"points"},"transform":[{"filter":"datum.gene === 'Il1r1'"}],"mark":{"type":"point","filled":true,"color":"#000","size":40,"opacity":1},"encoding":{"x":{"field":"group","type":"nominal"},"y":{"field":"value","type":"quantitative"},"shape":{"field":"group","type":"nominal","scale":{"domain":["PBS","Bleomycin"],"range":["circle","square"]},"legend":null}}}
     ]}
   ],"spacing":62,"bounds":"flush"},
   {"hconcat":[
    {"width":128,"height":132,"title":"Il33","data":{"name":"boxes"},"transform":[{"filter":"datum.gene === 'Il33'"}],
     "layer":[
      {"mark":{"type":"rule","color":"#000","strokeWidth":2},"encoding":{"x":{"field":"group","type":"nominal","scale":{"domain":["PBS","Bleomycin"],"paddingInner":0.4,"paddingOuter":0.343,"align":0.544},"axis":{"title":null}},"y":{"field":"lo","type":"quantitative","scale":{"domain":[0,3],"nice":false,"zero":false},"axis":{"values":[0,1,2,3],"tickCount":20,"format":"d","title":"Fold differences","titlePadding":6,"labelOverlap":false}},"y2":{"field":"hi"}}},
      {"mark":{"type":"bar","width":34,"stroke":"#000","strokeWidth":2},"encoding":{"x":{"field":"group","type":"nominal"},"y":{"field":"q1","type":"quantitative"},"y2":{"field":"q3"},"fill":{"field":"group","type":"nominal","scale":{"domain":["PBS","Bleomycin"],"range":["#4a92e8","#fbf5a3"]},"legend":null}}},
      {"mark":{"type":"tick","color":"#000","thickness":2,"size":34},"encoding":{"x":{"field":"group","type":"nominal"},"y":{"field":"med","type":"quantitative"}}},
      {"mark":{"type":"tick","color":"#000","thickness":2,"size":19},"encoding":{"x":{"field":"group","type":"nominal"},"y":{"field":"lo","type":"quantitative"}}},
      {"mark":{"type":"tick","color":"#000","thickness":2,"size":19},"encoding":{"x":{"field":"group","type":"nominal"},"y":{"field":"hi","type":"quantitative"}}},
      {"data":{"name":"points"},"transform":[{"filter":"datum.gene === 'Il33'"}],"mark":{"type":"point","filled":true,"color":"#000","size":40,"opacity":1},"encoding":{"x":{"field":"group","type":"nominal"},"y":{"field":"value","type":"quantitative"},"shape":{"field":"group","type":"nominal","scale":{"domain":["PBS","Bleomycin"],"range":["circle","square"]},"legend":null}}},
      {"data":{"name":"stars"},"transform":[{"filter":"datum.gene === 'Il33'"}],"mark":{"type":"text","fontSize":16,"fontWeight":"bold","baseline":"middle","dx":0,"dy":4,"color":"#111"},"encoding":{"y":{"field":"y","type":"quantitative"},"text":{"field":"label"}}}
     ]},
    {"width":140,"height":132,"title":"Il1rn","data":{"name":"boxes"},"transform":[{"filter":"datum.gene === 'Il1rn'"}],
     "layer":[
      {"mark":{"type":"rule","color":"#000","strokeWidth":2},"encoding":{"x":{"field":"group","type":"nominal","scale":{"domain":["PBS","Bleomycin"],"paddingInner":0.4,"paddingOuter":0.45,"align":0.599},"axis":{"title":null}},"y":{"field":"lo","type":"quantitative","scale":{"domain":[0.6,1.4],"nice":false,"zero":false},"axis":{"values":[0.6,0.8,1,1.2,1.4],"tickCount":20,"format":".1f","title":"Fold differences","titlePadding":2,"labelOverlap":false}},"y2":{"field":"hi"}}},
      {"mark":{"type":"bar","width":34,"stroke":"#000","strokeWidth":2},"encoding":{"x":{"field":"group","type":"nominal"},"y":{"field":"q1","type":"quantitative"},"y2":{"field":"q3"},"fill":{"field":"group","type":"nominal","scale":{"domain":["PBS","Bleomycin"],"range":["#4a92e8","#fbf5a3"]},"legend":null}}},
      {"mark":{"type":"tick","color":"#000","thickness":2,"size":34},"encoding":{"x":{"field":"group","type":"nominal"},"y":{"field":"med","type":"quantitative"}}},
      {"mark":{"type":"tick","color":"#000","thickness":2,"size":19},"encoding":{"x":{"field":"group","type":"nominal"},"y":{"field":"lo","type":"quantitative"}}},
      {"mark":{"type":"tick","color":"#000","thickness":2,"size":19},"encoding":{"x":{"field":"group","type":"nominal"},"y":{"field":"hi","type":"quantitative"}}},
      {"data":{"name":"points"},"transform":[{"filter":"datum.gene === 'Il1rn'"}],"mark":{"type":"point","filled":true,"color":"#000","size":40,"opacity":1},"encoding":{"x":{"field":"group","type":"nominal"},"y":{"field":"value","type":"quantitative"},"shape":{"field":"group","type":"nominal","scale":{"domain":["PBS","Bleomycin"],"range":["circle","square"]},"legend":null}}}
     ]},
    {"width":135,"height":132,"title":"Il1rl2","data":{"name":"boxes"},"transform":[{"filter":"datum.gene === 'Il1rl2'"}],
     "layer":[
      {"mark":{"type":"rule","color":"#000","strokeWidth":2},"encoding":{"x":{"field":"group","type":"nominal","scale":{"domain":["PBS","Bleomycin"],"paddingInner":0.4,"paddingOuter":0.405,"align":0.467},"axis":{"title":null}},"y":{"field":"lo","type":"quantitative","scale":{"domain":[0.7,1.3],"nice":false,"zero":false},"axis":{"values":[0.7,0.8,0.9,1,1.1,1.2,1.3],"tickCount":20,"format":".1f","title":"Fold differences","titlePadding":2,"labelOverlap":false}},"y2":{"field":"hi"}}},
      {"mark":{"type":"bar","width":34,"stroke":"#000","strokeWidth":2},"encoding":{"x":{"field":"group","type":"nominal"},"y":{"field":"q1","type":"quantitative"},"y2":{"field":"q3"},"fill":{"field":"group","type":"nominal","scale":{"domain":["PBS","Bleomycin"],"range":["#4a92e8","#fbf5a3"]},"legend":null}}},
      {"mark":{"type":"tick","color":"#000","thickness":2,"size":34},"encoding":{"x":{"field":"group","type":"nominal"},"y":{"field":"med","type":"quantitative"}}},
      {"mark":{"type":"tick","color":"#000","thickness":2,"size":19},"encoding":{"x":{"field":"group","type":"nominal"},"y":{"field":"lo","type":"quantitative"}}},
      {"mark":{"type":"tick","color":"#000","thickness":2,"size":19},"encoding":{"x":{"field":"group","type":"nominal"},"y":{"field":"hi","type":"quantitative"}}},
      {"data":{"name":"points"},"transform":[{"filter":"datum.gene === 'Il1rl2'"}],"mark":{"type":"point","filled":true,"color":"#000","size":40,"opacity":1},"encoding":{"x":{"field":"group","type":"nominal"},"y":{"field":"value","type":"quantitative"},"shape":{"field":"group","type":"nominal","scale":{"domain":["PBS","Bleomycin"],"range":["circle","square"]},"legend":null}}}
     ]},
    {"width":131,"height":132,"title":"Il1rap","data":{"name":"boxes"},"transform":[{"filter":"datum.gene === 'Il1rap'"}],
     "layer":[
      {"mark":{"type":"rule","color":"#000","strokeWidth":2},"encoding":{"x":{"field":"group","type":"nominal","scale":{"domain":["PBS","Bleomycin"],"paddingInner":0.4,"paddingOuter":0.37,"align":0.488},"axis":{"title":null}},"y":{"field":"lo","type":"quantitative","scale":{"domain":[0,2],"nice":false,"zero":false},"axis":{"values":[0,0.5,1,1.5,2],"tickCount":20,"format":".1f","title":"Fold differences","titlePadding":2,"labelOverlap":false}},"y2":{"field":"hi"}}},
      {"mark":{"type":"bar","width":34,"stroke":"#000","strokeWidth":2},"encoding":{"x":{"field":"group","type":"nominal"},"y":{"field":"q1","type":"quantitative"},"y2":{"field":"q3"},"fill":{"field":"group","type":"nominal","scale":{"domain":["PBS","Bleomycin"],"range":["#4a92e8","#fbf5a3"]},"legend":null}}},
      {"mark":{"type":"tick","color":"#000","thickness":2,"size":34},"encoding":{"x":{"field":"group","type":"nominal"},"y":{"field":"med","type":"quantitative"}}},
      {"mark":{"type":"tick","color":"#000","thickness":2,"size":19},"encoding":{"x":{"field":"group","type":"nominal"},"y":{"field":"lo","type":"quantitative"}}},
      {"mark":{"type":"tick","color":"#000","thickness":2,"size":19},"encoding":{"x":{"field":"group","type":"nominal"},"y":{"field":"hi","type":"quantitative"}}},
      {"data":{"name":"points"},"transform":[{"filter":"datum.gene === 'Il1rap'"}],"mark":{"type":"point","filled":true,"color":"#000","size":40,"opacity":1},"encoding":{"x":{"field":"group","type":"nominal"},"y":{"field":"value","type":"quantitative"},"shape":{"field":"group","type":"nominal","scale":{"domain":["PBS","Bleomycin"],"range":["circle","square"]},"legend":null}}}
     ]},
    {"width":125,"height":132,"title":"Il1r2","data":{"name":"boxes"},"transform":[{"filter":"datum.gene === 'Il1r2'"}],
     "layer":[
      {"mark":{"type":"rule","color":"#000","strokeWidth":2},"encoding":{"x":{"field":"group","type":"nominal","scale":{"domain":["PBS","Bleomycin"],"paddingInner":0.4,"paddingOuter":0.316,"align":0.712},"axis":{"title":null}},"y":{"field":"lo","type":"quantitative","scale":{"domain":[0,2],"nice":false,"zero":false},"axis":{"values":[0,0.5,1,1.5,2],"tickCount":20,"format":".1f","title":"Fold differences","titlePadding":2,"labelOverlap":false}},"y2":{"field":"hi"}}},
      {"mark":{"type":"bar","width":34,"stroke":"#000","strokeWidth":2},"encoding":{"x":{"field":"group","type":"nominal"},"y":{"field":"q1","type":"quantitative"},"y2":{"field":"q3"},"fill":{"field":"group","type":"nominal","scale":{"domain":["PBS","Bleomycin"],"range":["#4a92e8","#fbf5a3"]},"legend":null}}},
      {"mark":{"type":"tick","color":"#000","thickness":2,"size":34},"encoding":{"x":{"field":"group","type":"nominal"},"y":{"field":"med","type":"quantitative"}}},
      {"mark":{"type":"tick","color":"#000","thickness":2,"size":19},"encoding":{"x":{"field":"group","type":"nominal"},"y":{"field":"lo","type":"quantitative"}}},
      {"mark":{"type":"tick","color":"#000","thickness":2,"size":19},"encoding":{"x":{"field":"group","type":"nominal"},"y":{"field":"hi","type":"quantitative"}}},
      {"data":{"name":"points"},"transform":[{"filter":"datum.gene === 'Il1r2'"}],"mark":{"type":"point","filled":true,"color":"#000","size":40,"opacity":1},"encoding":{"x":{"field":"group","type":"nominal"},"y":{"field":"value","type":"quantitative"},"shape":{"field":"group","type":"nominal","scale":{"domain":["PBS","Bleomycin"],"range":["circle","square"]},"legend":null}}},
      {"data":{"name":"stars"},"transform":[{"filter":"datum.gene === 'Il1r2'"}],"mark":{"type":"text","fontSize":16,"fontWeight":"bold","baseline":"middle","dx":9,"dy":4,"color":"#111"},"encoding":{"y":{"field":"y","type":"quantitative"},"text":{"field":"label"}}}
     ]},
    {"width":131,"height":132,"title":"Il1f6 (Il36α)","data":{"name":"boxes"},"transform":[{"filter":"datum.gene === 'Il1f6'"}],
     "layer":[
      {"mark":{"type":"rule","color":"#000","strokeWidth":2},"encoding":{"x":{"field":"group","type":"nominal","scale":{"domain":["PBS","Bleomycin"],"paddingInner":0.4,"paddingOuter":0.37,"align":0.529},"axis":{"title":null}},"y":{"field":"lo","type":"quantitative","scale":{"domain":[0,6],"nice":false,"zero":false},"axis":{"values":[0,2,4,6],"tickCount":20,"format":"d","title":"Fold differences","titlePadding":6,"labelOverlap":false}},"y2":{"field":"hi"}}},
      {"mark":{"type":"bar","width":34,"stroke":"#000","strokeWidth":2},"encoding":{"x":{"field":"group","type":"nominal"},"y":{"field":"q1","type":"quantitative"},"y2":{"field":"q3"},"fill":{"field":"group","type":"nominal","scale":{"domain":["PBS","Bleomycin"],"range":["#4a92e8","#fbf5a3"]},"legend":null}}},
      {"mark":{"type":"tick","color":"#000","thickness":2,"size":34},"encoding":{"x":{"field":"group","type":"nominal"},"y":{"field":"med","type":"quantitative"}}},
      {"mark":{"type":"tick","color":"#000","thickness":2,"size":19},"encoding":{"x":{"field":"group","type":"nominal"},"y":{"field":"lo","type":"quantitative"}}},
      {"mark":{"type":"tick","color":"#000","thickness":2,"size":19},"encoding":{"x":{"field":"group","type":"nominal"},"y":{"field":"hi","type":"quantitative"}}},
      {"data":{"name":"points"},"transform":[{"filter":"datum.gene === 'Il1f6'"}],"mark":{"type":"point","filled":true,"color":"#000","size":40,"opacity":1},"encoding":{"x":{"field":"group","type":"nominal"},"y":{"field":"value","type":"quantitative"},"shape":{"field":"group","type":"nominal","scale":{"domain":["PBS","Bleomycin"],"range":["circle","square"]},"legend":null}}}
     ]}
   ],"spacing":56,"bounds":"flush"}
  ]
 }
]
}
